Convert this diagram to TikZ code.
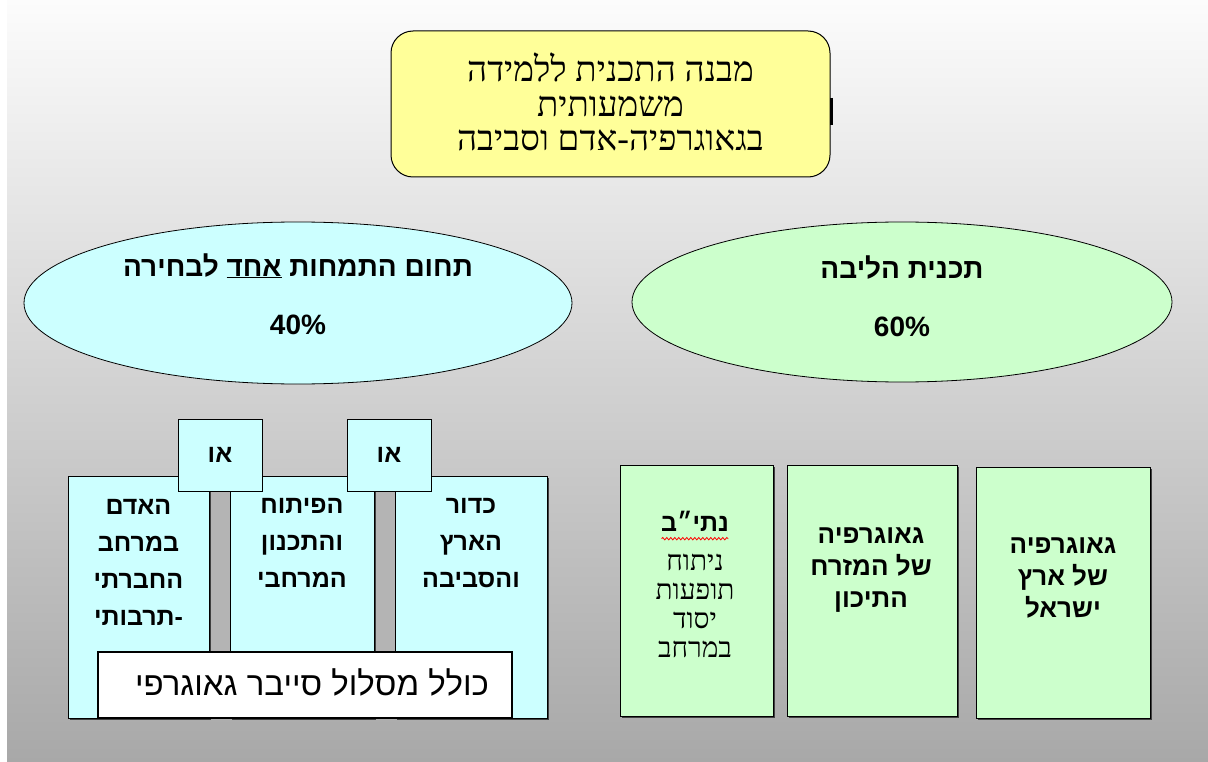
\documentclass[tikz,border=0pt]{standalone}
\usepackage{fontspec}
\usetikzlibrary{shapes.geometric,decorations.pathmorphing}
\TeXXeTstate=1
\newfontfamily\hebsans[Script=Hebrew]{Liberation Sans}
\newfontfamily\hebserif[Script=Hebrew]{Liberation Serif}
\newcommand{\heb}[1]{\beginR #1\endR}
\definecolor{titlefill}{HTML}{FFFF99}
\definecolor{bluefill}{HTML}{CCFFFF}
\definecolor{greenfill}{HTML}{CCFFCC}
\definecolor{bgtop}{HTML}{FCFCFC}
\definecolor{bgbottom}{HTML}{A8A8A8}
\definecolor{stripgray}{HTML}{B4B4B4}
\tikzset{
  boxbase/.style={draw=black, line width=1pt, rectangle, inner sep=0pt},
  bluebox/.style={boxbase, fill=bluefill},
  greenbox/.style={boxbase, fill=greenfill},
  orbox/.style={boxbase, fill=bluefill, minimum width=84pt, minimum height=72pt,
     font=\hebsans\bfseries\fontsize{25}{28}\selectfont},
  ovalbox/.style={ellipse, draw=black, line width=0.8pt, inner sep=0pt,
     minimum width=548pt, minimum height=162pt},
  ovaltext/.style={align=center, font=\hebsans\bfseries\fontsize{28}{58}\selectfont},
  coltext/.style={align=center, font=\hebsans\bfseries\fontsize{25}{37}\selectfont},
  shadowed/.style={preaction={fill=black!75, transform canvas={shift={(1.5pt,-1.5pt)}}}},
}
\begin{document}
\begin{tikzpicture}[x=1pt,y=-1pt]
\useasboundingbox (0,0) rectangle (1208,762);
\fill[white] (0,0) rectangle (1208,762);
\shade[top color=bgtop, bottom color=bgbottom] (7,0) rectangle (1208,762);

% title
\node[boxbase, fill=titlefill, rounded corners=22pt, minimum width=439pt, minimum height=146pt] (title) at (610.5,104) {};
\draw[line width=3pt] (831,98) -- (831,125);
\node[align=center, font=\hebserif\fontsize{35}{34.5}\selectfont] (titletext) at (610.5,102)
  {\heb{מבנה התכנית ללמידה}\\\heb{משמעותית}\\\heb{בגאוגרפיה-אדם וסביבה}};

% ellipses
\node[ovalbox, fill=bluefill] (elective) at (298,303) {};
\node[ovaltext] (electivetext) at (298,294) {\heb{תחום התמחות \underline{אחד} לבחירה}\\40\%};
\node[ovalbox, fill=greenfill, minimum width=540pt, minimum height=160pt] (core) at (902,302) {};
\node[ovaltext] (coretext) at (902,296) {\heb{תכנית הליבה}\\60\%};

% left group
\fill[stripgray] (209,480) rectangle (230,718);
\fill[stripgray] (374,480) rectangle (395,718);
\node[bluebox, shadowed, minimum width=141pt, minimum height=242pt] (human) at (138.5,597) {};
\node[bluebox, shadowed, minimum width=144pt, minimum height=242pt] (develop) at (302,597) {};
\node[bluebox, shadowed, minimum width=152pt, minimum height=242pt] (earth) at (471,597) {};
\node[coltext] (humantext) at (138.5,562) {\heb{האדם}\\\heb{במרחב}\\\heb{החברתי}\\\heb{-תרבותי}};
\node[coltext] (developtext) at (302,543) {\heb{הפיתוח}\\\heb{והתכנון}\\\heb{המרחבי}};
\node[coltext] (earthtext) at (471,543) {\heb{כדור}\\\heb{הארץ}\\\heb{והסביבה}};
\node[orbox] (orleft) at (220,455) {\heb{או}};
\node[orbox] (orright) at (389,455) {\heb{או}};
\node[boxbase, fill=white, line width=1.3pt, minimum width=414pt, minimum height=66pt] (cyber) at (305,685) {};
\node[font=\hebsans\fontsize{33}{36}\selectfont] (cybertext) at (312,682) {\heb{כולל מסלול סייבר גאוגרפי}};

% right group
\node[greenbox, shadowed, minimum width=153pt, minimum height=251pt] (natib) at (696.5,590.5) {};
\node[greenbox, shadowed, minimum width=170pt, minimum height=251pt] (mideast) at (872,590.5) {};
\node[greenbox, shadowed, minimum width=174pt, minimum height=251pt] (israel) at (1063,592.5) {};
\node[font=\hebsans\bfseries\fontsize{25}{28}\selectfont] (natibtitle) at (695,521) {\heb{נתי״ב}};
\draw[red, line width=0.8pt, decorate, decoration={snake, segment length=4pt, amplitude=1.2pt}]
  ([xshift=4pt, yshift=-4pt]natibtitle.south west) -- ([xshift=-4pt, yshift=-4pt]natibtitle.south east);
\node[align=center, font=\hebserif\fontsize{28}{29}\selectfont] (natibtext) at (695,606) {\heb{ניתוח}\\\heb{תופעות}\\\heb{יסוד}\\\heb{במרחב}};
\node[coltext, font=\hebsans\bfseries\fontsize{26}{32}\selectfont] (mideasttext) at (871,570) {\heb{גאוגרפיה}\\\heb{של המזרח}\\\heb{התיכון}};
\node[coltext, font=\hebsans\bfseries\fontsize{26}{32}\selectfont] (israeltext) at (1063,578) {\heb{גאוגרפיה}\\\heb{של ארץ}\\\heb{ישראל}};
\end{tikzpicture}
\end{document}
